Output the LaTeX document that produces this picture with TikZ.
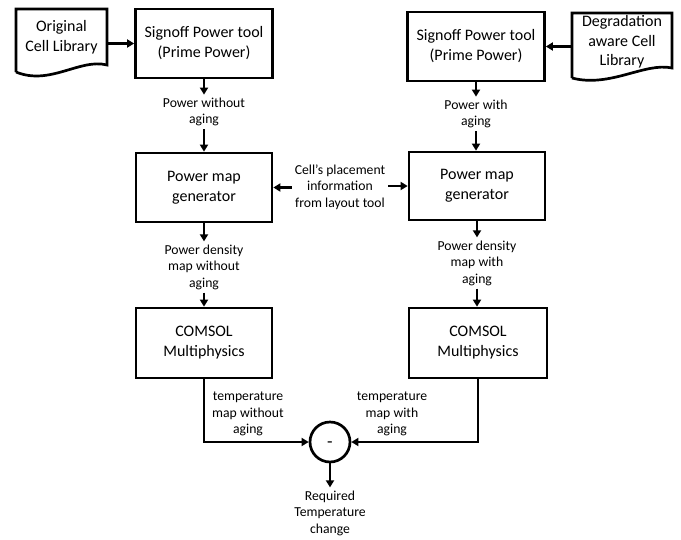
\documentclass[tikz,border=0pt]{standalone}
\usepackage{fontspec}
\setmainfont{Carlito}
\usetikzlibrary{arrows.meta,calc}
\begin{document}
\begin{tikzpicture}[x=1pt,y=-1pt,
  box/.style={draw,line width=2.7pt,minimum width=137pt,minimum height=69pt,align=center,font=\fontsize{16}{20}\selectfont,inner sep=0pt},
  lbl/.style={align=center,font=\fontsize{13.7}{16.5}\selectfont,inner sep=3pt},
  docn/.style={align=center,font=\fontsize{16}{19.5}\selectfont,inner sep=0pt},
  doc/.style={line width=2.7pt,line join=miter},
  arr/.style={line width=2.2pt,-{Triangle[length=7pt,width=8pt]}}]
\useasboundingbox (0,0) rectangle (681,539);
% documents
\draw[doc] (16,72) -- (16,9) -- (107,9) -- (107,65) .. controls (80,58) and (50,86) .. (16,72);
\node[docn,minimum width=91pt,minimum height=56pt] (lib1) at (61.5,37) {Original\\Cell Library};
\draw[doc] (572,78) -- (572,13) -- (672,13) -- (672,68) .. controls (645,62) and (610,88) .. (572,78);
\node[docn,minimum width=100pt,minimum height=56pt] (lib2) at (622,42) {Degradation\\aware Cell\\Library};
% boxes
\node[box] (sp1) at (204,43.5) {Signoff Power tool\\(Prime Power)};
\node[box] (sp2) at (476,46.5) {Signoff Power tool\\(Prime Power)};
\node[box,minimum width=136pt] (pm1) at (204,187.5) {Power map\\generator};
\node[box,minimum width=136pt,minimum height=68pt] (pm2) at (477,186) {Power map\\generator};
\node[box,minimum width=136pt,minimum height=70pt] (cm1) at (204,343) {COMSOL\\Multiphysics};
\node[box,minimum width=138pt,minimum height=70pt] (cm2) at (478,343) {COMSOL\\Multiphysics};
\node[draw,circle,line width=2.7pt,minimum size=40pt,inner sep=0pt] (mn) at (330,442) {};
\node[font=\fontsize{18}{20}\selectfont,inner sep=0pt] (mnt) at ([yshift=-3pt]mn.center) {-};
% labels
\node[lbl] (l1) at (204,112) {Power without\\aging};
\node[lbl] (l2) at (476,114) {Power with\\aging};
\node[lbl] (l3) at (204,267) {Power density\\map without\\aging};
\node[lbl] (l4) at (477,263) {Power density\\map with\\aging};
\node[lbl] (l5) at (340,187) {Cell’s placement\\information\\from layout tool};
\node[lbl] (l6) at (248,414) {temperature\\map without\\aging};
\node[lbl] (l7) at (392,414) {temperature\\map with\\aging};
\node[lbl] (l8) at (330,513) {Required\\Temperature\\change};
% connectors
\draw[arr] (lib1.east |- sp1.west) -- (sp1.west);
\draw[arr] (lib2.west |- sp2.east) -- (sp2.east);
\draw[arr] (sp1.south) -- (l1.north);
\draw[arr] (l1.south) -- (pm1.north);
\draw[arr] (sp2.south -| l2.north) -- (l2.north);
\draw[arr] (l2.south) -- (l2.south |- pm2.north);
\draw[arr] (l5.west |- pm1.east) -- (pm1.east);
\draw[arr] (l5.east |- pm2.west) -- (pm2.west);
\draw[arr] (pm1.south) -- (l3.north);
\draw[arr] (l3.south) -- (cm1.north);
\draw[arr] (pm2.south) -- (l4.north);
\draw[arr] (l4.south) -- (l4.south |- cm2.north);
\draw[arr,line join=miter] (cm1.south) |- (mn.west);
\draw[arr,line join=miter] (cm2.south) |- (mn.east);
\draw[arr] (mn.south) -- (l8.north);
\end{tikzpicture}
\end{document}
